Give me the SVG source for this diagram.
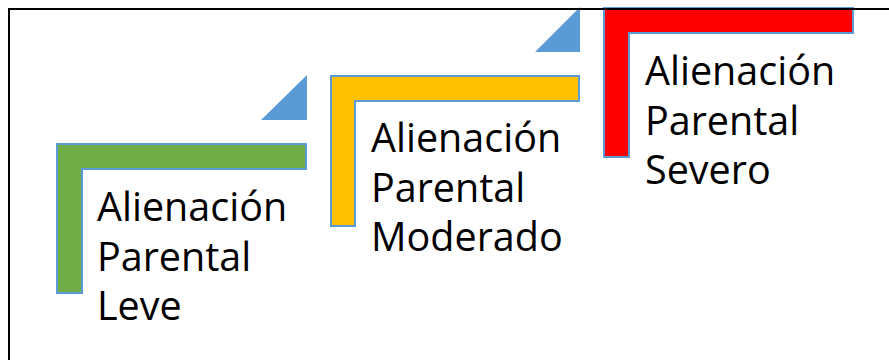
<svg xmlns="http://www.w3.org/2000/svg" width="889" height="360" viewBox="0 0 889 360">
  <style>
    .bar { stroke: #5B9BD5; stroke-width: 2; stroke-linejoin: miter; }
    .tri { fill: #5B9BD5; }
    .lbl { font-family: "Open Sans", "Noto Sans", "Liberation Sans", sans-serif; font-size: 39.5px; fill: #000000; }
  </style>
  <rect x="0" y="0" width="889" height="360" fill="#FFFFFF"/>
  <g id="connectors"></g>
  <g id="step-leve">
    <path class="bar" fill="#70AD47" d="M57,144 H306 V169 H82 V293 H57 Z"/>
    <polygon class="tri" points="261,120 307,120 307,75"/>
    <text class="lbl" x="97" y="220.5">Alienación</text>
    <text class="lbl" x="97" y="270.5">Parental</text>
    <text class="lbl" x="97" y="320">Leve</text>
  </g>
  <g id="step-moderado">
    <path class="bar" fill="#FFC000" d="M331,76 H579 V101 H355 V226 H331 Z"/>
    <polygon class="tri" points="535,52 580,52 580,7"/>
    <text class="lbl" x="371" y="151.5">Alienación</text>
    <text class="lbl" x="371" y="201.5">Parental</text>
    <text class="lbl" x="371" y="251">Moderado</text>
  </g>
  <g id="step-severo">
    <path class="bar" fill="#FF0000" d="M604,8 H853 V33 H629 V157 H604 Z"/>
    <text class="lbl" x="645" y="85">Alienación</text>
    <text class="lbl" x="645" y="135">Parental</text>
    <text class="lbl" x="645" y="184">Severo</text>
  </g>
  <g id="frame">
    <path d="M9,360 V9 H889" fill="none" stroke="#000000" stroke-width="2"/>
  </g>
</svg>
